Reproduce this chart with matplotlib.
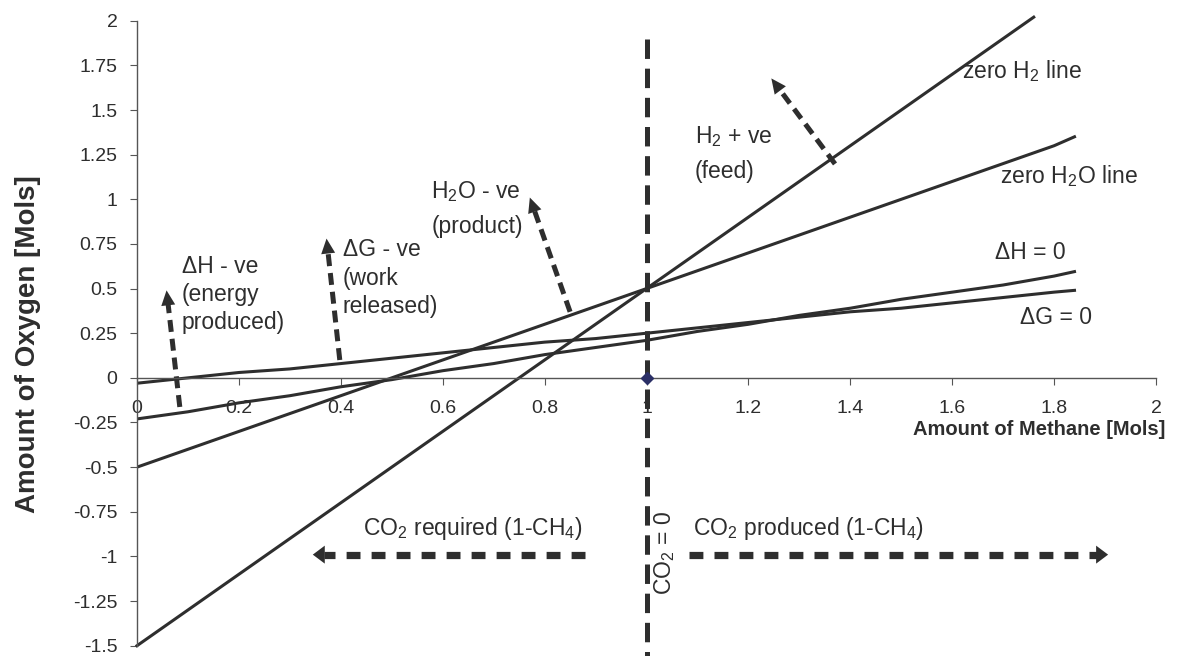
import numpy as np
import matplotlib
matplotlib.use("Agg")
import matplotlib.pyplot as plt

plt.rcParams['font.family'] = ['Liberation Sans', 'DejaVu Sans']
plt.rcParams['mathtext.fontset'] = 'custom'
plt.rcParams['mathtext.rm'] = 'Liberation Sans'
plt.rcParams['mathtext.default'] = 'regular'
plt.rcParams['lines.scale_dashes'] = False

# data
methane = [0, 0.1, 0.2, 0.3, 0.4, 0.5, 0.6, 0.7, 0.8, 0.9, 1.0,
           1.1, 1.2, 1.3, 1.4, 1.5, 1.6, 1.7, 1.8, 1.84]
zero_h2o = [-0.5, -0.4, -0.3, -0.2, -0.1, 0.0, 0.1, 0.2, 0.3, 0.4, 0.5,
            0.6, 0.7, 0.8, 0.9, 1.0, 1.1, 1.2, 1.3, 1.35]
dh_zero = [-0.23, -0.19, -0.14, -0.10, -0.05, -0.01, 0.04, 0.08, 0.13, 0.17, 0.21,
           0.26, 0.30, 0.35, 0.39, 0.44, 0.48, 0.52, 0.57, 0.595]
dg_zero = [-0.03, 0.00, 0.03, 0.05, 0.08, 0.11, 0.14, 0.17, 0.20, 0.22, 0.25,
           0.28, 0.31, 0.34, 0.37, 0.39, 0.42, 0.45, 0.48, 0.49]
h2_methane = [0, 0.1, 0.2, 0.3, 0.4, 0.5, 0.6, 0.7, 0.8, 0.9, 1.0,
              1.1, 1.2, 1.3, 1.4, 1.5, 1.6, 1.7, 1.76]
zero_h2 = [-1.5, -1.3, -1.1, -0.9, -0.7, -0.5, -0.3, -0.1, 0.1, 0.3, 0.5,
           0.7, 0.9, 1.1, 1.3, 1.5, 1.7, 1.9, 2.02]

x_ticks = [0, 0.2, 0.4, 0.6, 0.8, 1, 1.2, 1.4, 1.6, 1.8, 2]
x_labels = ['0', '0.2', '0.4', '0.6', '0.8', '1', '1.2', '1.4', '1.6', '1.8', '2']
y_ticks = [-1.5, -1.25, -1, -0.75, -0.5, -0.25, 0, 0.25, 0.5, 0.75, 1, 1.25, 1.5, 1.75, 2]
y_labels = ['-1.5', '-1.25', '-1', '-0.75', '-0.5', '-0.25', '0', '0.25', '0.5',
            '0.75', '1', '1.25', '1.5', '1.75', '2']

# (tail x, tail y, tip x, tip y)
up_arrows = [(0.084, -0.163, 0.058, 0.49),
             (0.398, 0.10, 0.372, 0.78),
             (0.850, 0.37, 0.771, 1.01),
             (1.370, 1.198, 1.245, 1.677)]
side_arrows = [(0.879, -0.99, 0.345, -0.99),
               (1.083, -0.99, 1.906, -0.99)]

ink = '#2e2e2e'
fs = 14
afs = 16.5

fig = plt.figure(figsize=(11.79, 6.56), dpi=100)
ax = fig.add_axes([0.1162, 0.0157, 0.8643, 0.9527])
ax.set_xlim(0, 2)
ax.set_ylim(-1.5, 2)

for s in ['top', 'right']:
    ax.spines[s].set_visible(False)
ax.spines['bottom'].set_position(('data', 0))
ax.spines['left'].set_position(('data', 0))
for s in ['bottom', 'left']:
    ax.spines[s].set_color('#555555')
    ax.spines[s].set_linewidth(1.0)

ax.set_xticks(x_ticks)
ax.set_xticklabels(x_labels)
ax.set_yticks(y_ticks)
ax.set_yticklabels(y_labels)
ax.tick_params(axis='x', direction='out', length=5, color='#555555', pad=11,
               labelsize=fs, labelcolor=ink)
ax.tick_params(axis='y', direction='out', length=5, color='#555555', pad=9,
               labelsize=fs, labelcolor=ink)

lw = 2.2
ax.plot(h2_methane, zero_h2, color=ink, lw=lw, clip_on=False)
ax.plot(methane, zero_h2o, color=ink, lw=lw)
ax.plot(methane, dh_zero, color=ink, lw=lw)
ax.plot(methane, dg_zero, color=ink, lw=lw)

# CO2 = 0 boundary
ax.plot([1, 1], [1.9, -1.6], color=ink, lw=3.6, dashes=(14, 7), clip_on=False,
        dash_capstyle='butt')
ax.plot([1], [0], marker='D', color='#2b2f66', ms=6, zorder=5)


def dashed_arrow(x0, y0, x1, y1, width, dashes, head_len, head_half):
    to_disp = ax.transData.transform
    to_data = ax.transData.inverted().transform
    p0 = to_disp((x0, y0))
    p1 = to_disp((x1, y1))
    d = p1 - p0
    u = d / np.hypot(*d)
    n = np.array([-u[1], u[0]])
    base = p1 - u * head_len
    xe, ye = to_data(p1 - u * head_len * 0.9)
    ax.plot([x0, xe], [y0, ye], color=ink, lw=width, dashes=dashes,
            dash_capstyle='butt', clip_on=False)
    tri = np.array([p1, base + n * head_half, base - n * head_half])
    tri = to_data(tri)
    ax.fill(tri[:, 0], tri[:, 1], color=ink, lw=0, clip_on=False)


for a in up_arrows:
    dashed_arrow(*a, width=3.6, dashes=(8.6, 5), head_len=15, head_half=7)
for a in side_arrows:
    dashed_arrow(*a, width=5.2, dashes=(10, 8), head_len=12, head_half=9)

# labels (left edge, baseline)
notes = [(1.620, 1.677, 'zero H$_2$ line'),
         (1.694, 1.093, 'zero H$_2$O line'),
         (1.684, 0.666, '\u0394H = 0'),
         (1.733, 0.302, '\u0394G = 0'),
         (1.095, 1.313, 'H$_2$ + ve'),
         (1.095, 1.118, '(feed)'),
         (0.578, 1.006, 'H$_2$O - ve'),
         (0.578, 0.813, '(product)'),
         (0.404, 0.683, '\u0394G - ve'),
         (0.404, 0.520, '(work'),
         (0.404, 0.365, 'released)'),
         (0.088, 0.589, '\u0394H - ve'),
         (0.088, 0.430, '(energy'),
         (0.088, 0.272, 'produced)'),
         (0.444, -0.88, 'CO$_2$ required (1-CH$_4$)'),
         (1.092, -0.88, 'CO$_2$ produced (1-CH$_4$)')]
for x, y, t in notes:
    ax.text(x, y, t, fontsize=afs, color=ink, va='baseline', ha='left')
ax.text(1.036, -0.98, 'CO$_2$ = 0', fontsize=afs, color=ink, va='center', ha='center',
        rotation=90)

ax.text(2.018, -0.29, 'Amount of Methane [Mols]', fontsize=14.5, fontweight='bold',
        color=ink, ha='right', va='center')
fig.text(28 / 1179, 1 - 344 / 656, 'Amount of Oxygen [Mols]', fontsize=20,
         fontweight='bold', color=ink, rotation=90, ha='center', va='center')

fig.savefig('out.png', dpi=100)
